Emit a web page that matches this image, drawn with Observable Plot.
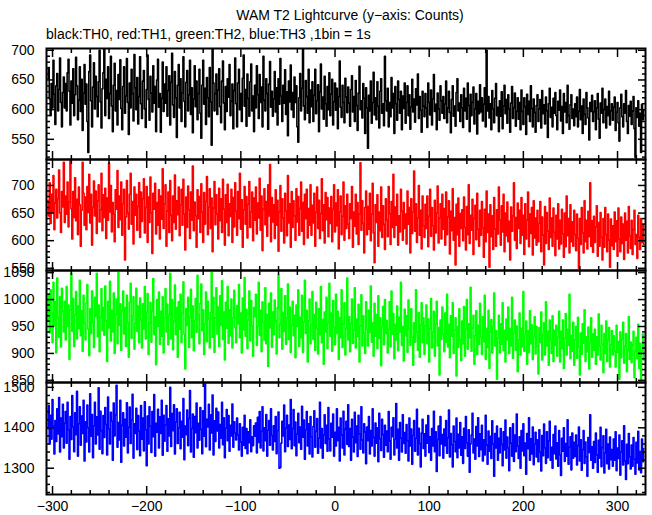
<!DOCTYPE html>
<html>
<head>
<meta charset="utf-8">
<script src="https://cdn.jsdelivr.net/npm/d3@7"></script>
<script src="https://cdn.jsdelivr.net/npm/@observablehq/plot@0.6"></script>
<style>
  html, body { margin: 0; padding: 0; background: #fff; }
  #chart { position: relative; width: 652px; height: 515px; font-family: "Liberation Sans", Arial, Helvetica, sans-serif; }
  #title { position: absolute; top: 7px; left: 0; width: 700px; text-align: center; font-size: 14px; color: #000; }
  #subtitle { position: absolute; top: 26px; left: 46px; font-size: 14px; color: #000; white-space: nowrap; }
  .panel { position: absolute; left: 0; }
</style>
</head>
<body>
<div id="chart">
  <div id="title">WAM T2 Lightcurve (y−axis: Counts)</div>
  <div id="subtitle">black:TH0, red:TH1, green:TH2, blue:TH3 ,1bin = 1s</div>
</div>
<script>
// time of the first 1-s bin (seconds); each following value is the next bin
const startTime = -305;

// TH0 (black) counts per 1-s bin
const th0 = `
652 671 618 590 644 603 683 626 575 640 661 598 634 687 612 571 629 655 603 644
598 662 685 631 574 648 611 669 590 625 688 640 583 616 672 597 651 565 628 676
609 643 580 528 664 692 615 571 638 679 601 656 622 588 647 700 613 569 635 662
704 590 651 619 672 585 627 690 606 563 641 678 598 632 574 659 617 684 602 566
639 672 594 623 686 612 558 645 603 668 627 581 693 637 600 654 576 622 689 610
585 648 666 601 570 634 692 617 582 656 628 596 674 611 639 563 650 685 604 627
562 619 680 597 643 611 672 589 632 657 574 646 695 608 587 664 620 553 641 676
603 652 580 628 689 614 571 646 666 598 625 683 592 637 561 618 674 605 648 583
627 668 594 552 641 683 609 636 575 654 620 588 671 613 540 705 645 598 627 660
592 633 669 605 578 648 682 611 566 639 597 652 621 676 590 614 643 568 632 687
610 571 645 668 600 627 580 653 692 606 634 572 660 619 589 647 677 598 623 563
641 603 674 625 585 659 612 638 571 690 616 598 652 627 567 643 681 604 631 589
618 664 596 637 574 652 609 686 623 580 641 611 667 592 630 556 648 613 675 600
629 587 655 612 640 571 545 620 661 598 636 703 606 583 649 622 594 668 578 633
605 647 580 624 668 593 615 642 563 630 677 601 621 584 656 610 572 639 600 662
590 626 651 574 613 645 599 636 568 622 682 604 587 641 612 578 653 621 595 638
611 572 634 657 596 622 580 649 607 565 628 673 600 615 586 644 619 560 637 603
535 624 598 648 577 612 663 591 620 583 647 606 569 631 652 594 610 573 690 615
598 636 571 612 588 654 603 627 560 639 610 582 648 617 594 631 566 623 602 645
577 612 640 590 625 567 604 651 596 618 579 635 608 660 585 622 599 562 631 606
588 627 603 570 645 612 591 633 574 618 659 597 609 566 628 601 582 640 615 594
622 585 609 648 578 603 631 595 561 617 640 589 606 572 629 652 598 611 580 625
603 570 636 598 619 584 645 607 563 626 590 612 638 576 601 627 559 614 593 642
596 620 581 609 637 571 700 598 622 586 610 566 632 601 578 619 644 590 604 563
615 589 630 568 606 641 593 617 577 625 601 562 611 639 585 603 628 572 597 620
584 612 566 633 597 575 620 605 558 626 592 614 580 640 602 571 618 595 562 607
625 580 601 617 569 632 593 608 576 621 598 553 610 636 587 604 571 619 594 629
590 566 614 599 633 581 605 560 627 596 612 578 641 590 567 608 625 585 601 573
610 588 621 571 597 634 583 606 560 618 592 575 629 603 586 549 612 597 624 580
596 615 566 603 627 584 552 611 594 636 578 600 618 569 605 590 631 574 598 610
582 604 621 565 596 612 578 547 603 626 588 571 610 594 632 580 560 607 589 614
575 598 622 568 520 603 587 615 572 594 528 609 583 598
`.trim().split(/\s+/).map(Number);

// TH1 (red)
const th1 = `
672 645 705 631 684 652 718 620 668 693 641 676 728 650 615 689 661 742 633 681
648 706 625 670 745 658 603 689 642 714 636 675 611 697 665 590 655 742 686 628
679 620 698 651 720 632 684 592 660 708 645 690 613 672 701 634 656 722 618 683
642 695 604 677 637 740 652 700 616 669 648 598 692 657 727 624 681 638 706 610
667 693 565 643 709 650 621 684 722 630 671 594 697 646 684 619 662 705 606 688
635 676 712 614 660 698 597 679 633 715 650 577 686 657 704 612 669 628 692 603
681 639 730 622 667 701 590 654 688 615 709 646 600 681 633 719 621 672 647 697
609 665 693 628 711 648 583 679 624 699 656 604 688 637 735 618 670 645 588 692
640 680 615 703 652 597 687 630 671 716 611 661 694 622 677 580 659 707 629 683
648 603 695 636 676 615 711 657 592 683 633 702 609 667 644 693 597 678 625 705
653 610 689 640 722 621 674 588 656 698 630 680 605 666 707 624 652 688 600 677
637 697 612 668 641 713 619 681 582 657 694 629 671 608 701 645 738 598 678 634
665 604 692 628 673 581 652 700 617 676 641 596 686 654 609 718 632 667 588 689
624 672 645 601 694 634 680 610 658 706 617 669 593 684 640 693 605 658 628 701
610 664 632 686 590 651 697 622 673 604 649 712 618 665 596 687 638 678 607 659
631 680 598 657 701 616 668 627 692 585 652 681 611 644 706 601 663 622 684 630
604 667 640 698 588 652 626 684 612 669 593 648 741 619 672 631 578 660 690 611
662 621 686 600 648 704 614 560 665 633 683 590 652 618 697 606 663 629 584 676
637 607 698 649 593 671 624 720 606 661 628 684 592 645 616 693 653 601 669 622
648 594 690 630 660 578 676 613 652 726 617 667 597 641 700 610 655 585 681 627
606 666 622 681 589 644 693 608 660 627 583 673 614 650 699 596 641 667 603 684
621 658 592 688 611 643 672 576 653 618 694 601 642 556 666 611 677 590 649 622
656 600 679 624 583 662 611 701 595 646 619 675 575 640 664 602 686 621 590 655
610 671 623 570 657 598 690 615 648 552 665 607 645 584 678 621 590 656 612 697
638 592 663 616 684 580 650 609 670 598 635 565 661 617 645 705 601 642 586 668
622 655 595 678 610 646 575 667 603 637 688 589 648 613 660 574 672 605 641 592
655 598 631 671 580 643 610 556 662 595 651 617 584 677 606 641 590 659 615 573
646 603 667 585 637 594 657 612 570 650 589 681 609 640 578 665 598 634 590 655
611 582 648 604 550 640 593 660 614 578 672 598 637 585 653 607 705 590 636 579
644 597 625 663 572 633 590 651 606 565 640 588 660 611 580 648 601 552 639 591
627 584 652 598 636 572 659 603 580 643 595 630 566 650 601 635 578 662 609 586
637 575 620 655 593 611 568 646 606 584 640 597 629 593
`.trim().split(/\s+/).map(Number);

// TH2 (green)
const th2 = `
962 1010 938 1018 975 920 1032 951 996 901 1040 967 930 1005 912 1021 978 940 997 925
1024 950 990 889 981 1049 941 1002 913 972 1015 927 988 946 1036 933 979 904 1008 956
925 994 1028 945 896 983 937 1016 958 911 1004 968 1049 931 990 903 967 1020 942 985
934 1025 961 885 997 948 1034 923 980 940 1012 900 973 1001 918 1050 952 992 906 979
1016 936 985 913 1008 957 893 995 1030 928 970 1005 908 955 1021 941 988 920 1003 962
910 992 946 1024 927 976 1011 898 956 995 921 979 1039 935 968 879 1000 950 1014 917
978 932 1005 901 966 1020 940 991 916 971 1049 927 1000 907 960 1027 935 985 893 996
945 1010 920 975 1033 936 871 983 952 1004 911 968 1019 929 988 905 961 1002 939 1045
971 918 993 1029 942 981 898 955 1014 922 997 964 910 976 1050 930 1004 902 966 1022
936 986 913 1007 952 1035 926 977 888 995 947 1024 919 981 933 1001 910 966 1017 948
920 989 955 1028 929 975 901 1003 944 1041 932 982 909 962 1016 923 998 951 895 985
968 1010 915 950 1032 934 980 903 996 958 925 1022 918 972 876 993 948 1012 911 977
935 999 960 899 985 1045 929 954 1020 908 976 941 1007 917 965 1029 926 986 902 952
997 933 971 892 990 950 1018 913 967 929 1008 902 958 1036 937 980 884 961 1001 918
953 1015 926 972 906 995 946 899 983 935 1024 920 963 880 977 940 1004 909 957 1030
932 975 904 998 949 916 1010 937 978 889 966 929 1018 911 955 994 897 946 1040 925
968 903 955 1001 919 943 1022 910 964 932 991 884 951 1009 914 970 938 900 996 945
914 980 939 1025 921 957 895 993 932 972 909 1007 928 966 877 950 987 916 1000 937
961 901 945 996 912 1016 936 974 890 954 925 988 905 967 940 1032 915 950 886 982
933 970 902 999 945 915 983 930 878 957 921 1018 939 906 976 893 952 994 920 966
898 951 990 918 964 884 946 1002 910 939 978 895 955 997 914 948 860 962 926 986
936 903 975 921 1010 912 954 892 970 932 994 900 943 966 858 950 911 983 925 887
960 918 987 895 945 1000 908 955 929 1023 904 947 971 880 933 979 898 952 917 993
930 898 968 922 1008 889 946 911 980 872 940 963 901 950 1012 914 942 852 929 971
901 955 917 994 905 943 884 964 925 986 900 946 914 1004 891 938 962 906 951 866
925 975 897 946 912 1015 904 935 960 880 942 902 979 918 953 889 930 968 899 950
913 862 948 920 977 888 935 957 897 996 914 941 878 962 924 900 970 885 943 915
952 895 930 978 884 941 909 962 872 928 974 897 945 915 1010 890 933 904 958 878
925 950 891 967 912 860 938 898 955 919 981 885 931 903 949 871 920 966 893 936
906 945 880 931 897 973 913 888 952 917 864 937 900 960 885 925 948 875 915 942
897 933 904 875 952 902 922 852 940 892 927 958 882 913 937 866 906 968 889 921
883 916 941 855 905 930 890 954 872 919 848 904 936 888
`.trim().split(/\s+/).map(Number);

// TH3 (blue)
const th3 = `
1398 1455 1360 1431 1372 1470 1405 1335 1418 1366 1447 1385 1475 1340 1424 1378 1458 1350 1412 1440
1362 1463 1395 1322 1428 1371 1480 1402 1341 1437 1383 1490 1330 1410 1452 1357 1429 1386 1468 1318
1415 1365 1456 1400 1340 1484 1379 1433 1326 1405 1463 1360 1427 1382 1499 1347 1441 1393 1336 1430
1376 1450 1408 1333 1476 1397 1360 1438 1416 1320 1461 1380 1432 1505 1352 1413 1370 1468 1315 1406
1437 1355 1421 1377 1462 1338 1401 1451 1361 1419 1483 1325 1410 1386 1448 1346 1430 1392 1331 1455
1372 1424 1343 1464 1395 1306 1429 1360 1452 1404 1339 1440 1378 1482 1330 1411 1389 1446 1350 1427
1386 1468 1332 1431 1367 1407 1455 1342 1422 1380 1500 1354 1435 1393 1457 1335 1414 1447 1361 1400
1438 1348 1416 1377 1472 1321 1404 1383 1444 1356 1423 1492 1340 1398 1434 1327 1428 1388 1461 1350
1411 1369 1450 1396 1336 1442 1379 1512 1353 1421 1402 1458 1345 1432 1387 1481 1333 1417 1366 1448
1392 1439 1350 1408 1374 1463 1358 1425 1326 1399 1445 1368 1430 1342 1406 1380 1459 1352 1415 1387
1370 1424 1382 1345 1410 1365 1330 1401 1357 1431 1349 1398 1336 1390 1363 1420 1341 1378 1356 1405
1379 1412 1338 1426 1364 1440 1350 1392 1452 1343 1400 1368 1433 1330 1394 1418 1357 1447 1381 1345
1405 1366 1428 1336 1393 1439 1300 1302 1362 1416 1380 1456 1341 1399 1431 1354 1407 1371 1470 1348
1398 1445 1356 1414 1331 1384 1436 1363 1402 1347 1453 1377 1419 1322 1395 1440 1355 1410 1335 1428
1378 1328 1403 1442 1352 1391 1423 1337 1374 1463 1350 1398 1325 1382 1432 1361 1406 1342 1450 1373
1343 1411 1377 1434 1330 1389 1355 1447 1368 1401 1318 1424 1382 1350 1441 1333 1396 1416 1359 1457
1354 1398 1320 1421 1377 1340 1438 1363 1404 1329 1431 1385 1347 1452 1370 1338 1410 1390 1311 1402
1368 1428 1335 1393 1355 1447 1376 1330 1412 1362 1400 1316 1436 1373 1344 1421 1383 1327 1406 1357
1392 1341 1440 1367 1322 1401 1378 1425 1333 1371 1460 1350 1396 1320 1413 1374 1340 1432 1361 1388
1337 1408 1368 1318 1424 1355 1397 1310 1381 1418 1342 1374 1446 1333 1399 1361 1303 1387 1421 1349
1385 1330 1407 1362 1430 1339 1378 1320 1398 1355 1441 1341 1390 1292 1371 1404 1331 1428 1360 1383
1325 1397 1356 1418 1337 1375 1444 1328 1386 1358 1303 1404 1366 1341 1424 1326 1384 1350 1413 1332
1378 1312 1399 1349 1428 1363 1330 1395 1290 1360 1382 1436 1338 1372 1322 1403 1355 1425 1329 1385
1346 1406 1318 1370 1333 1431 1357 1310 1392 1342 1379 1324 1417 1360 1280 1386 1350 1404 1320 1374
1338 1398 1359 1306 1390 1345 1419 1325 1377 1350 1294 1400 1362 1330 1410 1317 1382 1341 1434 1355
1324 1378 1300 1393 1343 1410 1331 1362 1285 1386 1348 1425 1320 1373 1335 1402 1309 1360 1389 1328
1370 1316 1395 1340 1293 1381 1331 1409 1350 1312 1390 1326 1368 1416 1320 1352 1300 1383 1336 1404
1323 1363 1305 1393 1333 1282 1374 1342 1400 1317 1361 1330 1420 1310 1352 1378 1296 1387 1325 1364
1329 1382 1308 1356 1402 1318 1370 1295 1346 1393 1312 1365 1328 1280 1376 1339 1432 1320 1353 1300
1366 1314 1387 1333 1290 1369 1325 1401 1304 1351 1380 1288 1338 1396 1311 1360 1298 1377 1321 1346
1305 1372 1320 1390 1294 1350 1324 1382 1283 1340 1368 1308 1405 1318 1272 1359 1311 1386 1328 1298
1357 1305 1376 1322 1285 1364 1313 1391 1296 1341 1289 1372 1316 1348
`.trim().split(/\s+/).map(Number);

// axis settings
const xDomain = [-306.4, 329.7];
const xLabelTicks = [-300, -200, -100, 0, 100, 200, 300];
const xMinorTicks = d3.range(-300, 330, 20);

const panels = [
  {name: "TH0", values: th0, color: "#000000", domain: [516, 703], labels: [550, 600, 650, 700], minor: 10, top: 48, bottom: 159},
  {name: "TH1", values: th1, color: "#ff0000", domain: [546, 747], labels: [550, 600, 650, 700], minor: 10, top: 159, bottom: 270},
  {name: "TH2", values: th2, color: "#00ff00", domain: [846, 1054], labels: [850, 900, 950, 1000, 1050], minor: 10, top: 270, bottom: 382},
  {name: "TH3", values: th3, color: "#0000ff", domain: [1235, 1512], labels: [1300, 1400, 1500], minor: 20, top: 382, bottom: 494}
];

const fmt = d => d < 0 ? "\u2212" + (-d) : String(d);
const chart = document.getElementById("chart");
const FONT = "Liberation Sans, Arial, Helvetica, sans-serif";

panels.forEach((p, k) => {
  const last = k === panels.length - 1;
  const data = p.values.map((v, i) => ({t: startTime + i, v}));
  const lo = Math.ceil(p.domain[0] / p.minor) * p.minor;
  const yMinor = d3.range(lo, p.domain[1] + 0.001, p.minor).filter(v => !p.labels.includes(v));
  const xMinor = xMinorTicks.filter(v => !xLabelTicks.includes(v));
  const mt = 10, mb = last ? 30 : 10;
  const svg = Plot.plot({
    width: 652,
    height: (p.bottom - p.top) + mt + mb,
    marginLeft: 46, marginRight: 7, marginTop: mt, marginBottom: mb,
    style: {overflow: "visible", background: "transparent", fontFamily: FONT},
    x: {domain: xDomain, label: null},
    y: {domain: p.domain, label: null},
    marks: [
      Plot.line(data, {x: "t", y: "v", stroke: p.color, strokeWidth: 1.6, curve: "step", clip: true}),
      // inward ticks, all four sides
      Plot.axisY({ticks: yMinor, anchor: "left", tickSize: -4, tickFormat: () => "", strokeWidth: 1.5}),
      Plot.axisY({ticks: p.labels, anchor: "left", tickSize: -8, tickFormat: () => "", strokeWidth: 1.5}),
      Plot.axisY({ticks: yMinor, anchor: "right", tickSize: -4, tickFormat: () => "", strokeWidth: 1.5}),
      Plot.axisY({ticks: p.labels, anchor: "right", tickSize: -8, tickFormat: () => "", strokeWidth: 1.5}),
      Plot.axisX({ticks: xMinor, anchor: "bottom", tickSize: -4, tickFormat: () => "", strokeWidth: 1.5}),
      Plot.axisX({ticks: xLabelTicks, anchor: "bottom", tickSize: -8, tickFormat: () => "", strokeWidth: 1.5}),
      Plot.axisX({ticks: xMinor, anchor: "top", tickSize: -4, tickFormat: () => "", strokeWidth: 1.5}),
      Plot.axisX({ticks: xLabelTicks, anchor: "top", tickSize: -8, tickFormat: () => "", strokeWidth: 1.5}),
      // labels
      Plot.axisY({ticks: p.labels, anchor: "left", tickSize: 0, tickPadding: 12, fontSize: 14, fill: "#000", tickFormat: fmt}),
      last ? Plot.axisX({ticks: xLabelTicks, anchor: "bottom", tickSize: 0, tickPadding: 7, fontSize: 14, fill: "#000", tickFormat: fmt}) : null,
      Plot.frame({stroke: "#000", strokeWidth: 2})
    ]
  });
  svg.classList.add("panel");
  svg.style.top = (p.top - mt) + "px";
  chart.appendChild(svg);
});
</script>
</body>
</html>
